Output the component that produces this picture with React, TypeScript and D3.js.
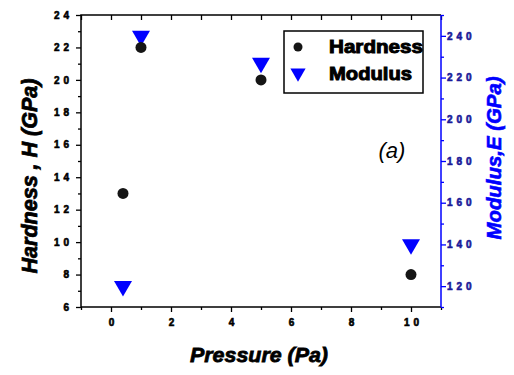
import React, { useRef, useEffect } from 'react'
import * as d3 from 'd3'

// pressure (Pa) for each sample
const pressure = [0.4, 1, 5, 10]
// hardness H (GPa), left axis
const hardness = [13, 22, 20, 8]
// modulus E (GPa), right axis
const modulus = [120, 240, 227, 140]

const xMajor = [0, 2, 4, 6, 8, 10]
const xMinor = [-1, 1, 3, 5, 7, 9, 11]
const hMajor = [6, 8, 10, 12, 14, 16, 18, 20, 22, 24]
const hMinor = [7, 9, 11, 13, 15, 17, 19, 21, 23]
const eMajor = [120, 140, 160, 180, 200, 220, 240]
const eMinor = [110, 130, 150, 170, 190, 210, 230, 250]

export default function App() {
    const svgRef = useRef<SVGSVGElement>(null)

    const width = 514
    const height = 375
    const left = 81
    const right = 441
    const top = 15
    const bottom = 307

    useEffect(() => {
        const svg = d3.select(svgRef.current)
        svg.selectAll('*').remove()

        const x = d3.scaleLinear().domain([-1, 11]).range([left, right])
        const yH = d3.scaleLinear().domain([6, 24]).range([bottom, top])
        const yE = d3.scaleLinear().domain([110, 250]).range([bottom, top])

        // heavy little tick labels, like the original's bitmap font
        const labelStyle = (g, color) => g.selectAll('text')
            .attr('font-family', 'Liberation Sans, Arial, sans-serif')
            .attr('font-weight', 'bold')
            .attr('font-size', 10)
            .attr('letter-spacing', 4)
            .attr('fill', color)
            .attr('stroke', color)
            .attr('stroke-width', 0.6)

        // bottom axis
        svg.append('g')
            .attr('transform', `translate(0,${bottom})`)
            .call(d3.axisBottom(x).tickValues(xMinor).tickSize(3).tickFormat(() => ''))
            .call(g => g.select('.domain').remove())
            .call(g => g.selectAll('line').attr('stroke-width', 1.3))
        svg.append('g')
            .attr('transform', `translate(0,${bottom})`)
            .call(d3.axisBottom(x).tickValues(xMajor).tickSize(5).tickPadding(7).tickFormat(d3.format('d')))
            .call(g => g.select('.domain').remove())
            .call(g => g.selectAll('line').attr('stroke-width', 1.3))
            .call(g => g.selectAll('text').attr('dx', 2))
            .call(g => labelStyle(g, '#000'))

        // top axis, ticks pointing inward
        svg.append('g')
            .attr('transform', `translate(0,${top})`)
            .call(d3.axisBottom(x).tickValues([...xMajor, ...xMinor]).tickSize(5).tickFormat(() => ''))
            .call(g => g.select('.domain').remove())
            .call(g => g.selectAll('line').attr('stroke-width', 1.3))

        // left axis
        svg.append('g')
            .attr('transform', `translate(${left},0)`)
            .call(d3.axisLeft(yH).tickValues(hMinor).tickSize(3).tickFormat(() => ''))
            .call(g => g.select('.domain').remove())
            .call(g => g.selectAll('line').attr('stroke-width', 1.3))
        svg.append('g')
            .attr('transform', `translate(${left},0)`)
            .call(d3.axisLeft(yH).tickValues(hMajor).tickSize(5).tickPadding(3).tickFormat(d3.format('d')))
            .call(g => g.select('.domain').remove())
            .call(g => g.selectAll('line').attr('stroke-width', 1.3))
            .call(g => labelStyle(g, '#000'))

        // right axis (modulus)
        svg.append('g')
            .attr('transform', `translate(${right},0)`)
            .call(d3.axisRight(yE).tickValues(eMinor).tickSize(3).tickFormat(() => ''))
            .call(g => g.select('.domain').remove())
            .call(g => g.selectAll('line').attr('stroke', '#0000ff').attr('stroke-width', 1.3))
        svg.append('g')
            .attr('transform', `translate(${right},0)`)
            .call(d3.axisRight(yE).tickValues(eMajor).tickSize(5).tickPadding(1).tickFormat(d3.format('d')))
            .call(g => g.select('.domain').remove())
            .call(g => g.selectAll('line').attr('stroke', '#0000ff').attr('stroke-width', 1.3))
            .call(g => labelStyle(g, '#1a1a99'))

        // frame
        svg.append('path')
            .attr('d', `M${right},${top}H${left}V${bottom}H${right}`)
            .attr('fill', 'none')
            .attr('stroke', '#000')
            .attr('stroke-width', 1.5)
        svg.append('line')
            .attr('x1', right).attr('x2', right)
            .attr('y1', top).attr('y2', bottom)
            .attr('stroke', '#0000ff')
            .attr('stroke-width', 1.5)

        // data
        const tri = d3.symbol().type(d3.symbolTriangle).size(140)
        svg.append('g').selectAll('path')
            .data(pressure)
            .join('path')
            .attr('d', tri)
            .attr('transform', (d, i) => `translate(${x(d)},${yE(modulus[i])}) rotate(180)`)
            .attr('fill', '#0000ff')
        svg.append('g').selectAll('circle')
            .data(pressure)
            .join('circle')
            .attr('cx', d => x(d))
            .attr('cy', (d, i) => yH(hardness[i]))
            .attr('r', 5.5)
            .attr('fill', '#151515')

        // legend
        svg.append('rect')
            .attr('x', 284).attr('y', 31)
            .attr('width', 139).attr('height', 62)
            .attr('fill', 'none')
            .attr('stroke', '#000')
            .attr('stroke-width', 1.5)
        svg.append('circle')
            .attr('cx', 298).attr('cy', 47).attr('r', 4.5)
            .attr('fill', '#151515')
        svg.append('path')
            .attr('d', d3.symbol().type(d3.symbolTriangle).size(100)())
            .attr('transform', 'translate(298,73) rotate(180)')
            .attr('fill', '#0000ff')
        const legendText = [['Hardness', 53, 94], ['Modulus', 80, 83]]
        legendText.forEach(([t, y, w]) => {
            svg.append('text')
                .attr('x', 329).attr('y', y)
                .attr('textLength', w)
                .attr('lengthAdjust', 'spacingAndGlyphs')
                .attr('font-family', 'Liberation Sans, Arial, sans-serif')
                .attr('font-weight', 'bold')
                .attr('font-size', 19)
                .attr('stroke', '#000')
                .attr('stroke-width', 1)
                .text(t)
        })

        // panel label
        svg.append('text')
            .attr('x', 392).attr('y', 158)
            .attr('text-anchor', 'middle')
            .attr('font-family', 'Liberation Sans, Arial, sans-serif')
            .attr('font-style', 'italic')
            .attr('font-size', 22)
            .text('(a)')

        // axis titles
        svg.append('text')
            .attr('x', 259).attr('y', 362)
            .attr('text-anchor', 'middle')
            .attr('textLength', 138)
            .attr('lengthAdjust', 'spacingAndGlyphs')
            .attr('font-family', 'Liberation Sans, Arial, sans-serif')
            .attr('font-weight', 'bold')
            .attr('font-style', 'italic')
            .attr('font-size', 21)
            .attr('stroke', '#000')
            .attr('stroke-width', 0.8)
            .text('Pressure (Pa)')
        svg.append('text')
            .attr('transform', 'translate(37,176) rotate(-90)')
            .attr('text-anchor', 'middle')
            .attr('textLength', 195)
            .attr('lengthAdjust', 'spacingAndGlyphs')
            .attr('font-family', 'Liberation Sans, Arial, sans-serif')
            .attr('font-weight', 'bold')
            .attr('font-style', 'italic')
            .attr('font-size', 22)
            .attr('stroke', '#000')
            .attr('stroke-width', 0.8)
            .text('Hardness , H (GPa)')
        svg.append('text')
            .attr('transform', 'translate(501,158) rotate(-90)')
            .attr('text-anchor', 'middle')
            .attr('textLength', 163)
            .attr('lengthAdjust', 'spacingAndGlyphs')
            .attr('font-family', 'Liberation Sans, Arial, sans-serif')
            .attr('font-weight', 'bold')
            .attr('font-style', 'italic')
            .attr('font-size', 20)
            .attr('fill', '#0000ff')
            .attr('stroke', '#0000ff')
            .attr('stroke-width', 0.6)
            .text('Modulus,E (GPa)')
    }, [])

    return (
        <svg ref={svgRef} width={width} height={height}
            style={{ position: 'absolute', left: 0, top: 0, background: '#fff' }} />
    )
}
